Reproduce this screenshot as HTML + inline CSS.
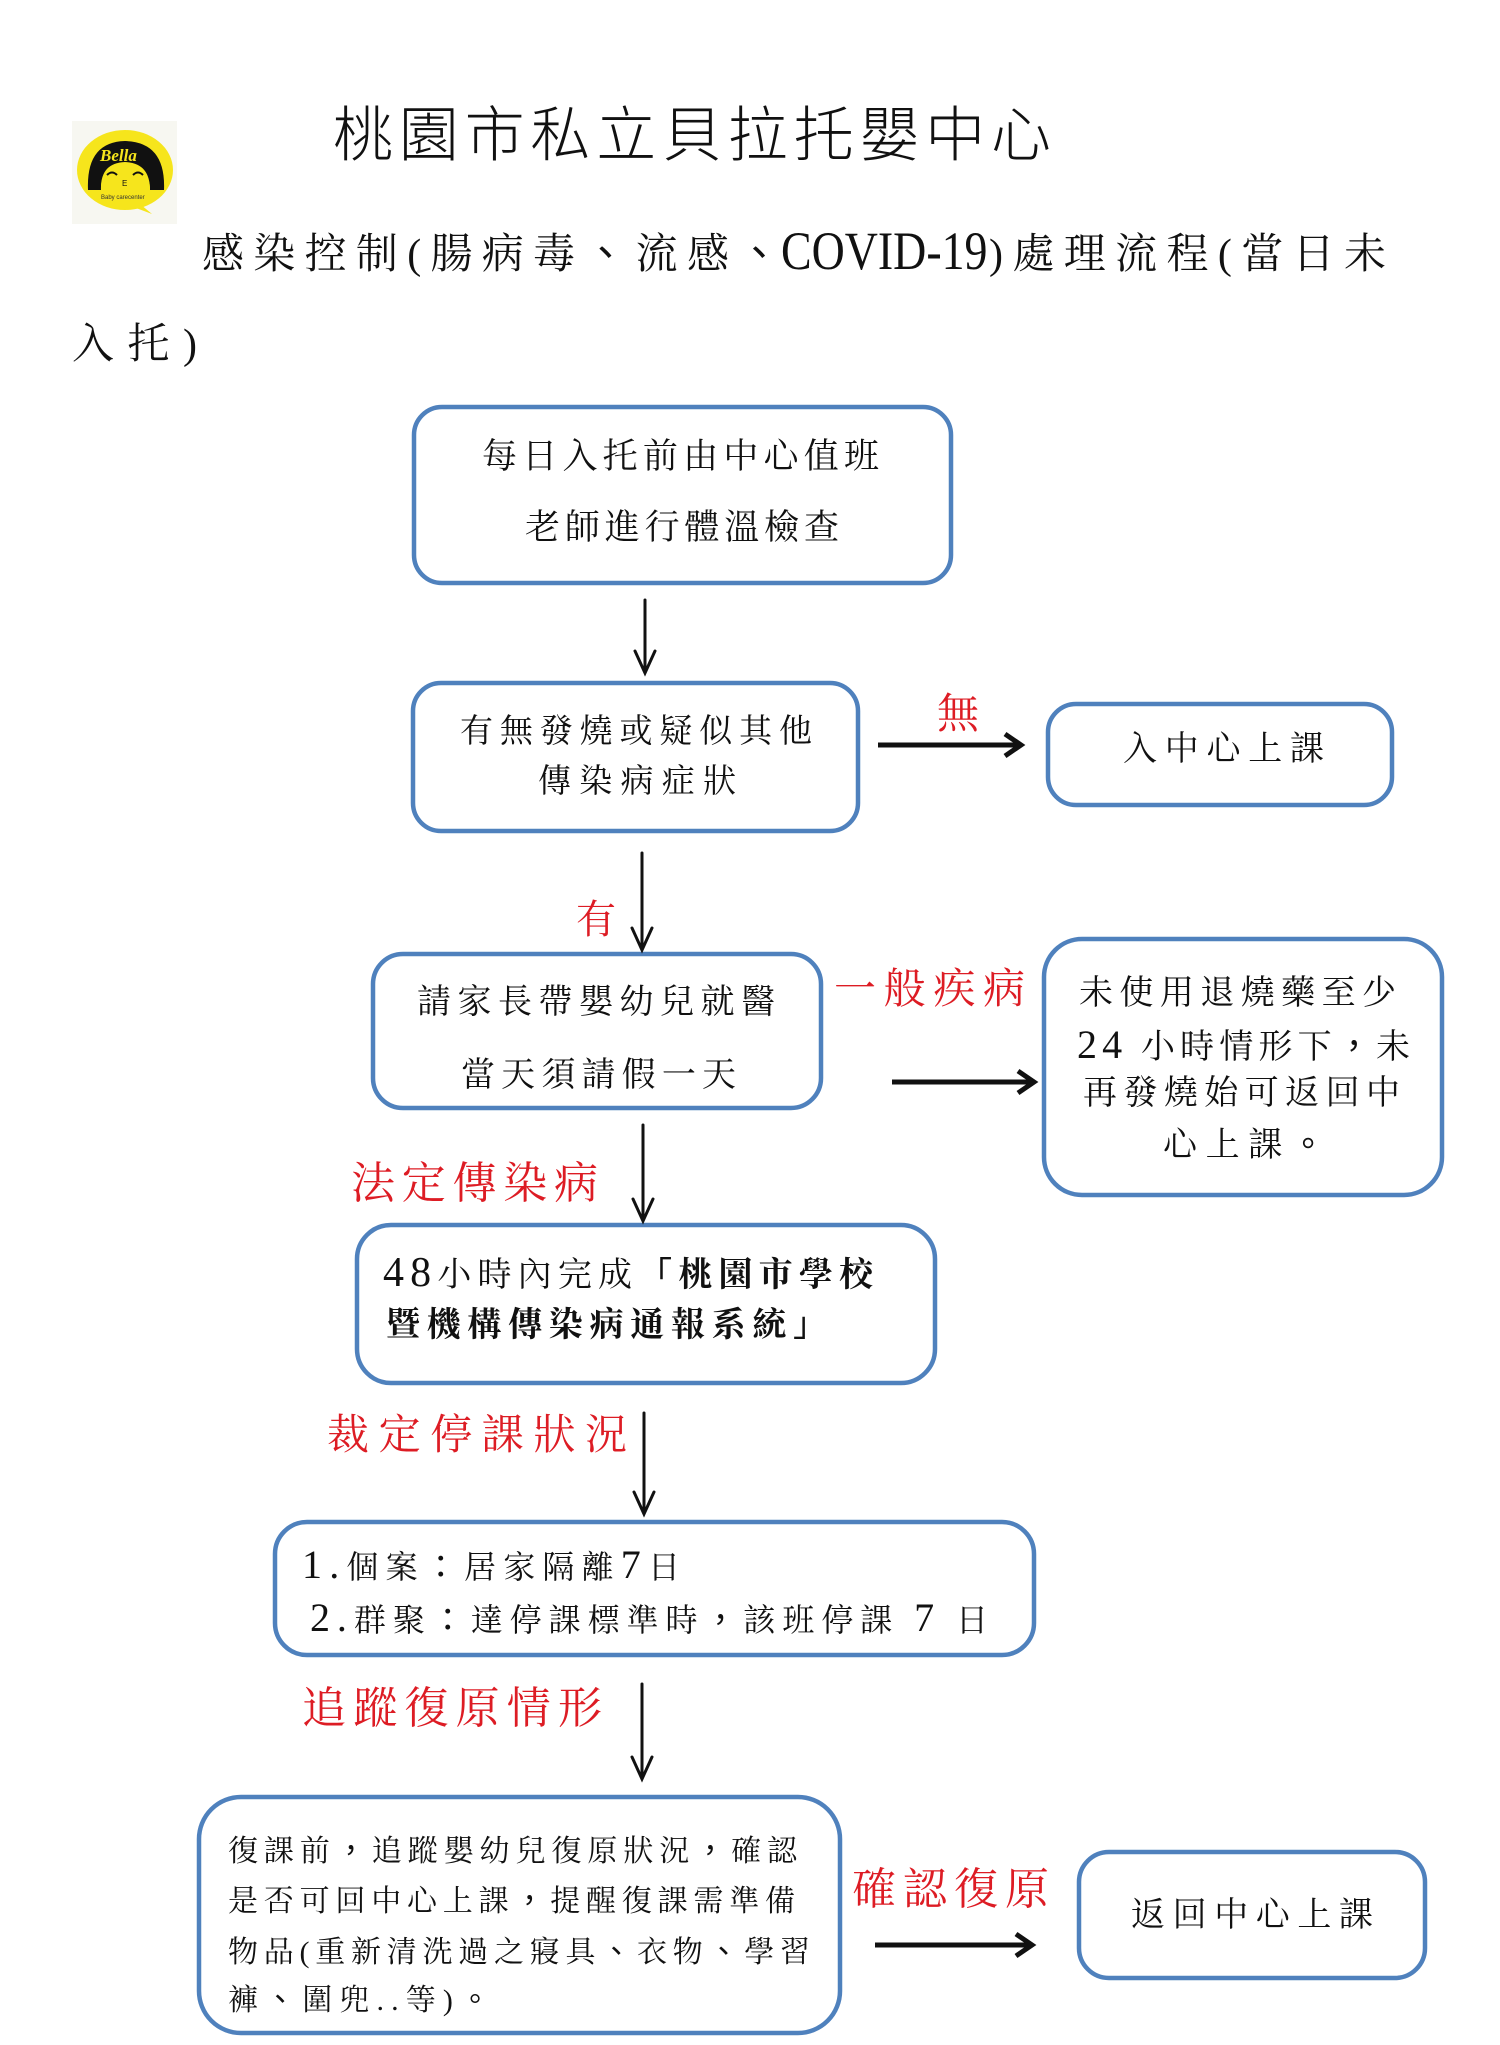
<!DOCTYPE html>
<html>
<head>
<meta charset="utf-8">
<style>
html,body{margin:0;padding:0;background:#fff;}
svg{display:block;}
.b{font-family:"Liberation Serif","Noto Serif CJK SC",serif;fill:#111;}
.r{font-family:"Liberation Serif","Noto Serif CJK SC",serif;fill:#dd1c24;}
.t{font-family:"Liberation Sans","Noto Sans CJK TC",sans-serif;font-weight:300;fill:#111;}
.p{font-family:"Noto Sans CJK TC","Noto Sans CJK JP",sans-serif;}
</style>
</head>
<body>
<svg width="1500" height="2045" viewBox="0 0 1500 2045" xmlns="http://www.w3.org/2000/svg">
<rect width="1500" height="2045" fill="#fff"/>

<!-- Logo -->
<g>
  <rect x="72" y="121" width="105" height="103" fill="#f7f7f1"/>
  <ellipse cx="125" cy="170" rx="48" ry="40" fill="#f6e51c"/>
  <path d="M140 204 L152 214 L136 208 Z" fill="#f6e51c"/>
  <path d="M88 190 Q86 142 125 141 Q166 142 164 190 L150 190 Q150 166 125 165 Q100 166 101 190 Z" fill="#111"/>
  <path d="M101 190 Q100 163 125 162 Q150 163 150 190 Z" fill="#f6e51c"/>
  <text x="100" y="161" font-family="Liberation Serif, serif" font-style="italic" font-weight="bold" font-size="17" fill="#f6e51c">Bella</text>
  <path d="M107 175 Q112 170 117 175" stroke="#111" stroke-width="2" fill="none"/>
  <path d="M133 175 Q138 170 143 175" stroke="#111" stroke-width="2" fill="none"/>
  <text x="122" y="186" font-family="Liberation Sans, sans-serif" font-size="8" fill="#111">E</text>
  <text x="101" y="199" font-family="Liberation Sans, sans-serif" font-size="6" fill="#333">Baby carecenter</text>
</g>

<!-- Title -->
<text class="t" x="333" y="156" font-size="60" textLength="718" lengthAdjust="spacing">桃園市私立貝拉托嬰中心</text>

<!-- Subtitle -->
<text class="b" x="202" y="268" font-size="42" textLength="527" lengthAdjust="spacing">感染控制(腸病毒<tspan class="p">、</tspan>流感</text>
<text class="b p" x="738" y="268" font-size="42">、</text>
<text class="b" font-size="54" transform="translate(781,269) scale(0.85,1)">COVID-19</text>
<text class="b" x="989" y="268" font-size="42" textLength="397" lengthAdjust="spacing">)處理流程(當日未</text>
<text class="b" x="72" y="358" font-size="42" textLength="125" lengthAdjust="spacing">入托)</text>

<!-- Boxes -->
<g fill="#fff" stroke="#4f81bd" stroke-width="4.5">
  <rect x="414" y="407" width="537" height="176" rx="28"/>
  <rect x="413" y="683" width="445" height="148" rx="28"/>
  <rect x="1048" y="704" width="344" height="101" rx="28"/>
  <rect x="373" y="954" width="448" height="154" rx="30"/>
  <rect x="1044" y="939" width="398" height="256" rx="38"/>
  <rect x="357" y="1225" width="578" height="158" rx="34"/>
  <rect x="275" y="1522" width="759" height="133" rx="32"/>
  <rect x="199" y="1797" width="641" height="236" rx="42"/>
  <rect x="1079" y="1852" width="346" height="126" rx="30"/>
</g>

<!-- Vertical arrows -->
<g stroke="#111" stroke-width="3" fill="none" stroke-linecap="round">
  <line x1="645" y1="600" x2="645" y2="672"/>
  <polyline points="635,651 645,673 655,651"/>
  <line x1="642" y1="853" x2="642" y2="949"/>
  <polyline points="632,928 642,950 652,928"/>
  <line x1="643" y1="1125" x2="643" y2="1220"/>
  <polyline points="633,1199 643,1221 653,1199"/>
  <line x1="644" y1="1413" x2="644" y2="1513"/>
  <polyline points="634,1492 644,1514 654,1492"/>
  <line x1="642" y1="1684" x2="642" y2="1778"/>
  <polyline points="632,1757 642,1779 652,1757"/>
</g>

<!-- Horizontal arrows -->
<g stroke="#111" stroke-width="5" fill="none" stroke-linejoin="miter">
  <line x1="878" y1="745" x2="1019" y2="745"/>
  <polyline points="1005,734 1021,745 1005,756"/>
  <line x1="892" y1="1082" x2="1032" y2="1082"/>
  <polyline points="1018,1071 1034,1082 1018,1093"/>
  <line x1="875" y1="1945" x2="1030" y2="1945"/>
  <polyline points="1016,1934 1032,1945 1016,1956"/>
</g>

<!-- Box texts -->
<text class="b" x="482" y="468" font-size="35" textLength="397" lengthAdjust="spacing">每日入托前由中心值班</text>
<text class="b" x="525" y="539" font-size="35" textLength="314" lengthAdjust="spacing">老師進行體溫檢查</text>

<text class="b" x="460" y="742" font-size="33" textLength="352" lengthAdjust="spacing">有無發燒或疑似其他</text>
<text class="b" x="538" y="792" font-size="33" textLength="198" lengthAdjust="spacing">傳染病症狀</text>

<text class="b" x="1123" y="760" font-size="34" textLength="201" lengthAdjust="spacing">入中心上課</text>

<text class="b" x="417" y="1013" font-size="34" textLength="358" lengthAdjust="spacing">請家長帶嬰幼兒就醫</text>
<text class="b" x="461" y="1086" font-size="34" textLength="275" lengthAdjust="spacing">當天須請假一天</text>

<text class="b" x="1079" y="1004" font-size="34" textLength="317" lengthAdjust="spacing">未使用退燒藥至少</text>
<text class="b" x="1077" y="1058" font-size="34" textLength="333" lengthAdjust="spacing"><tspan font-size="40">24</tspan> 小時情形下<tspan class="p">，</tspan>未</text>
<text class="b" x="1083" y="1104" font-size="34" textLength="317" lengthAdjust="spacing">再發燒始可返回中</text>
<text class="b" x="1163" y="1156" font-size="34" textLength="162" lengthAdjust="spacing">心上課<tspan class="p">。</tspan></text>

<text class="b" x="383" y="1286" font-size="34" textLength="490" lengthAdjust="spacing"><tspan font-size="42">48</tspan>小時內完成<tspan class="p">「</tspan><tspan font-weight="bold">桃園市學校</tspan></text>
<text class="b" x="386" y="1336" font-size="34" font-weight="bold" textLength="441" lengthAdjust="spacing">暨機構傳染病通報系統<tspan class="p" font-weight="normal">」</tspan></text>

<text class="b" x="302" y="1578" font-size="32" textLength="378" lengthAdjust="spacing"><tspan font-size="40">1.</tspan>個案<tspan class="p">：</tspan>居家隔離<tspan font-size="40">7</tspan>日</text>
<text class="b" x="310" y="1631" font-size="32" textLength="678" lengthAdjust="spacing"><tspan font-size="40">2.</tspan>群聚<tspan class="p">：</tspan>達停課標準時<tspan class="p">，</tspan>該班停課 <tspan font-size="40">7</tspan> 日</text>

<text class="b" x="228" y="1861" font-size="30" textLength="569" lengthAdjust="spacing">復課前<tspan class="p">，</tspan>追蹤嬰幼兒復原狀況<tspan class="p">，</tspan>確認</text>
<text class="b" x="228" y="1911" font-size="30" textLength="567" lengthAdjust="spacing">是否可回中心上課<tspan class="p">，</tspan>提醒復課需準備</text>
<text class="b" x="228" y="1962" font-size="30" textLength="582" lengthAdjust="spacing">物品(重新清洗過之寢具<tspan class="p">、</tspan>衣物<tspan class="p">、</tspan>學習</text>
<text class="b" x="228" y="2010" font-size="30" textLength="262" lengthAdjust="spacing">褲<tspan class="p">、</tspan>圍兜..等)<tspan class="p">。</tspan></text>

<text class="b" x="1131" y="1926" font-size="34" textLength="242" lengthAdjust="spacing">返回中心上課</text>

<!-- Red labels -->
<text class="r" x="937" y="728" font-size="42">無</text>
<text class="r" x="576" y="933" font-size="40">有</text>
<text class="r" x="834" y="1003" font-size="42" textLength="191" lengthAdjust="spacing">一般疾病</text>
<text class="r" x="351" y="1198" font-size="44" textLength="247" lengthAdjust="spacing">法定傳染病</text>
<text class="r" x="327" y="1449" font-size="42" textLength="300" lengthAdjust="spacing">裁定停課狀況</text>
<text class="r" x="302" y="1723" font-size="44" textLength="300" lengthAdjust="spacing">追蹤復原情形</text>
<text class="r" x="852" y="1904" font-size="44" textLength="197" lengthAdjust="spacing">確認復原</text>
</svg>
</body>
</html>
